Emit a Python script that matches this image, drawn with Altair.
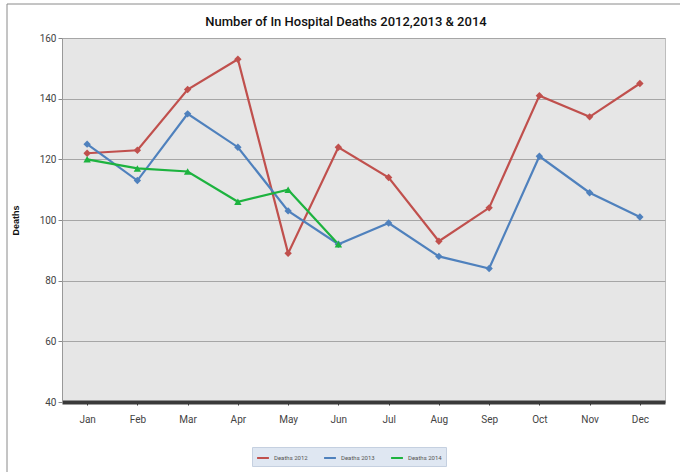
import altair as alt
import pandas as pd

months = ["Jan", "Feb", "Mar", "Apr", "May", "Jun", "Jul", "Aug", "Sep", "Oct", "Nov", "Dec"]
deaths_2012 = [122, 123, 143, 153, 89, 124, 114, 93, 104, 141, 134, 145]
deaths_2013 = [125, 113, 135, 124, 103, 92, 99, 88, 84, 121, 109, 101]
deaths_2014 = [120, 117, 116, 106, 110, 92]

series_names = ["Deaths 2012", "Deaths 2013", "Deaths 2014"]
series_colors = ["#c0504d", "#4f81bd", "#1db33f"]
series_shapes = ["diamond", "diamond", "triangle-up"]
chart_title = "Number of In Hospital Deaths 2012,2013 & 2014"

rows = []
for name, vals in zip(series_names, [deaths_2012, deaths_2013, deaths_2014]):
    for m, v in zip(months, vals):
        rows.append({"Month": m, "Deaths": v, "Series": name})
df = pd.DataFrame(rows)

label_font = "Roboto"

x_enc = alt.X("Month:N", sort=months, scale=alt.Scale(type="point", padding=0.5),
              axis=alt.Axis(title=None, labelFontSize=10, labelColor="#444444", labelPadding=9,
                            labelFont=label_font, ticks=True, tickColor="#333333",
                            tickSize=3, domainColor="#3a3a3a", domainWidth=4, grid=False, labelAngle=0,
                            bandPosition=0))
y_enc = alt.Y("Deaths:Q", scale=alt.Scale(domain=[40, 160], nice=False, zero=False),
              axis=alt.Axis(title="Deaths", titleFontSize=9, titleFontWeight="bold",
                            titleFont="Liberation Sans", titleColor="#111111", titlePadding=19,
                            values=[40, 60, 80, 100, 120, 140, 160], labelFontSize=10,
                            labelFont=label_font, labelColor="#444444",
                            tickColor="#888888", tickSize=4, domainColor="#999999",
                            gridColor="#a6a6a6", gridWidth=1))
color_enc = alt.Color("Series:N", sort=series_names,
                      scale=alt.Scale(domain=series_names, range=series_colors),
                      legend=alt.Legend(title=None, orient="none", direction="horizontal",
                                        legendX=190, legendY=409, labelFontSize=6, labelFont=label_font,
                                        labelColor="#555555", symbolType="stroke",
                                        symbolSize=140, symbolStrokeWidth=2, columnPadding=12,
                                        padding=4, fillColor="#dfe7f2", strokeColor="#c5d0e0"))

base = alt.Chart(df)
lines = base.mark_line(strokeWidth=2.2).encode(x=x_enc, y=y_enc, color=color_enc)
points = base.mark_point(filled=True, size=55, opacity=1).encode(
    x=x_enc, y=y_enc,
    fill=alt.Fill("Series:N", scale=alt.Scale(domain=series_names, range=series_colors), legend=None),
    shape=alt.Shape("Series:N", scale=alt.Scale(domain=series_names, range=series_shapes), legend=None),
)

# thin frame around the chart (left and top edges) and the heading above the plot
single = alt.Chart(pd.DataFrame({"k": [0]}))
frame_left = single.mark_rule(color="#8a8a8a", strokeWidth=1).encode(
    x=alt.value(-55), y=alt.value(-34), y2=alt.value(434))
frame_top = single.mark_rule(color="#8a8a8a", strokeWidth=1).encode(
    x=alt.value(-55), x2=alt.value(618), y=alt.value(-34))
heading = single.mark_text(font="Roboto", fontSize=13, fontWeight=500, color="#111111",
                           align="center", baseline="middle").encode(
    x=alt.value(284), y=alt.value(-16), text=alt.value(chart_title))

chart = (
    alt.layer(lines, points, frame_left, frame_top, heading)
    .resolve_scale(color="independent", fill="independent")
    .properties(
        width=603, height=364,
        autosize=alt.AutoSizeParams(type="none"),
        padding={"left": 62, "top": 38, "right": 15, "bottom": 70},
        background="white",
    )
    .configure_view(fill="#e6e6e6", stroke="#bdbdbd")
)

chart.save("out.html", embed_options={"renderer": "svg", "actions": False})
